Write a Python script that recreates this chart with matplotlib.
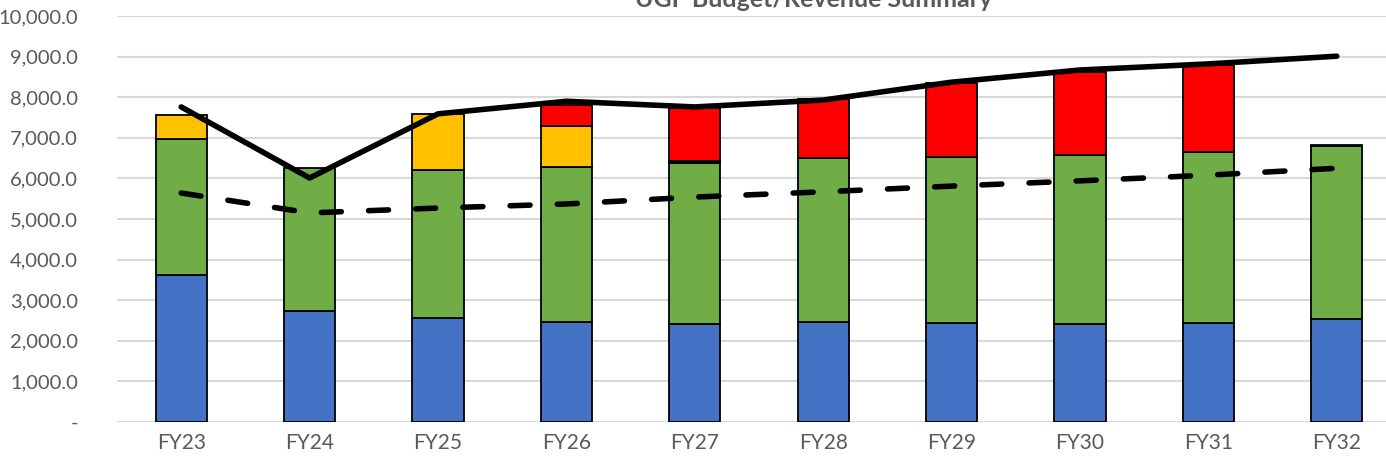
import numpy as np
import matplotlib.pyplot as plt
from matplotlib.ticker import FuncFormatter

years = ['FY23', 'FY24', 'FY25', 'FY26', 'FY27', 'FY28', 'FY29', 'FY30', 'FY31', 'FY32']

# stacked bar pieces
blue = np.array([3620, 2730, 2560, 2460, 2410, 2460, 2440, 2410, 2440, 2540])
green = np.array([3350, 3530, 3650, 3820, 3970, 4040, 4090, 4170, 4210, 4260])
other = np.array([0, 0, 0, 0, 40, 0, 0, 0, 0, 30])
yellow = np.array([590, 0, 1380, 1010, 0, 0, 0, 0, 0, 0])
red = np.array([0, 0, 0, 520, 1310, 1450, 1820, 2040, 2140, 0])

# lines
budget = [7760, 6010, 7590, 7900, 7760, 7930, 8370, 8670, 8820, 9010]
revenue = [5640, 5150, 5270, 5370, 5540, 5670, 5810, 5940, 6080, 6250]

plt.rcParams['font.family'] = ['Lato', 'DejaVu Sans']

fig = plt.figure(figsize=(13.86, 4.63), dpi=100)
ax = fig.add_axes([117/1386, 41/463, 1284/1386, 406/463])

x = np.arange(len(years))
w = 0.4
edge = dict(edgecolor='black', linewidth=1.3, zorder=2)
bottom = np.zeros(len(years))
for vals, col in [(blue, '#4472C4'), (green, '#70AD47'), (other, '#1a1a1a'),
                  (yellow, '#FFC000'), (red, '#FF0000')]:
    mask = vals > 0
    ax.bar(x[mask], vals[mask], w, bottom=bottom[mask], color=col, **edge)
    bottom += vals

ax.plot(x, budget, color='black', lw=4, solid_capstyle='round', zorder=3)
ax.plot(x, revenue, color='black', lw=4, dashes=(3.6, 4.9),
        dash_capstyle='round', zorder=3)

ax.set_xlim(-0.5, len(years) - 0.5)
ax.set_ylim(0, 10000)
ax.set_yticks(np.arange(0, 10001, 1000))
ax.yaxis.set_major_formatter(FuncFormatter(lambda v, p: '-' if v == 0 else f'{v:,.1f}'))
ax.set_xticks(x)
ax.set_xticklabels(years)
ax.grid(axis='y', color='#d9d9d9', lw=1.5, zorder=0)
ax.set_axisbelow(True)
for s in ax.spines.values():
    s.set_visible(False)
ax.tick_params(axis='x', length=0, labelsize=15, colors='#595959', pad=8)
ax.tick_params(axis='y', length=0, labelsize=14.5, colors='#595959', pad=28)

fig.text(814/1386, 1 + 1/463, 'UGF Budget/Revenue Summary', ha='center', va='center',
         fontsize=18, fontweight='bold', color='#595959')

fig.savefig('out.png', dpi=100)
